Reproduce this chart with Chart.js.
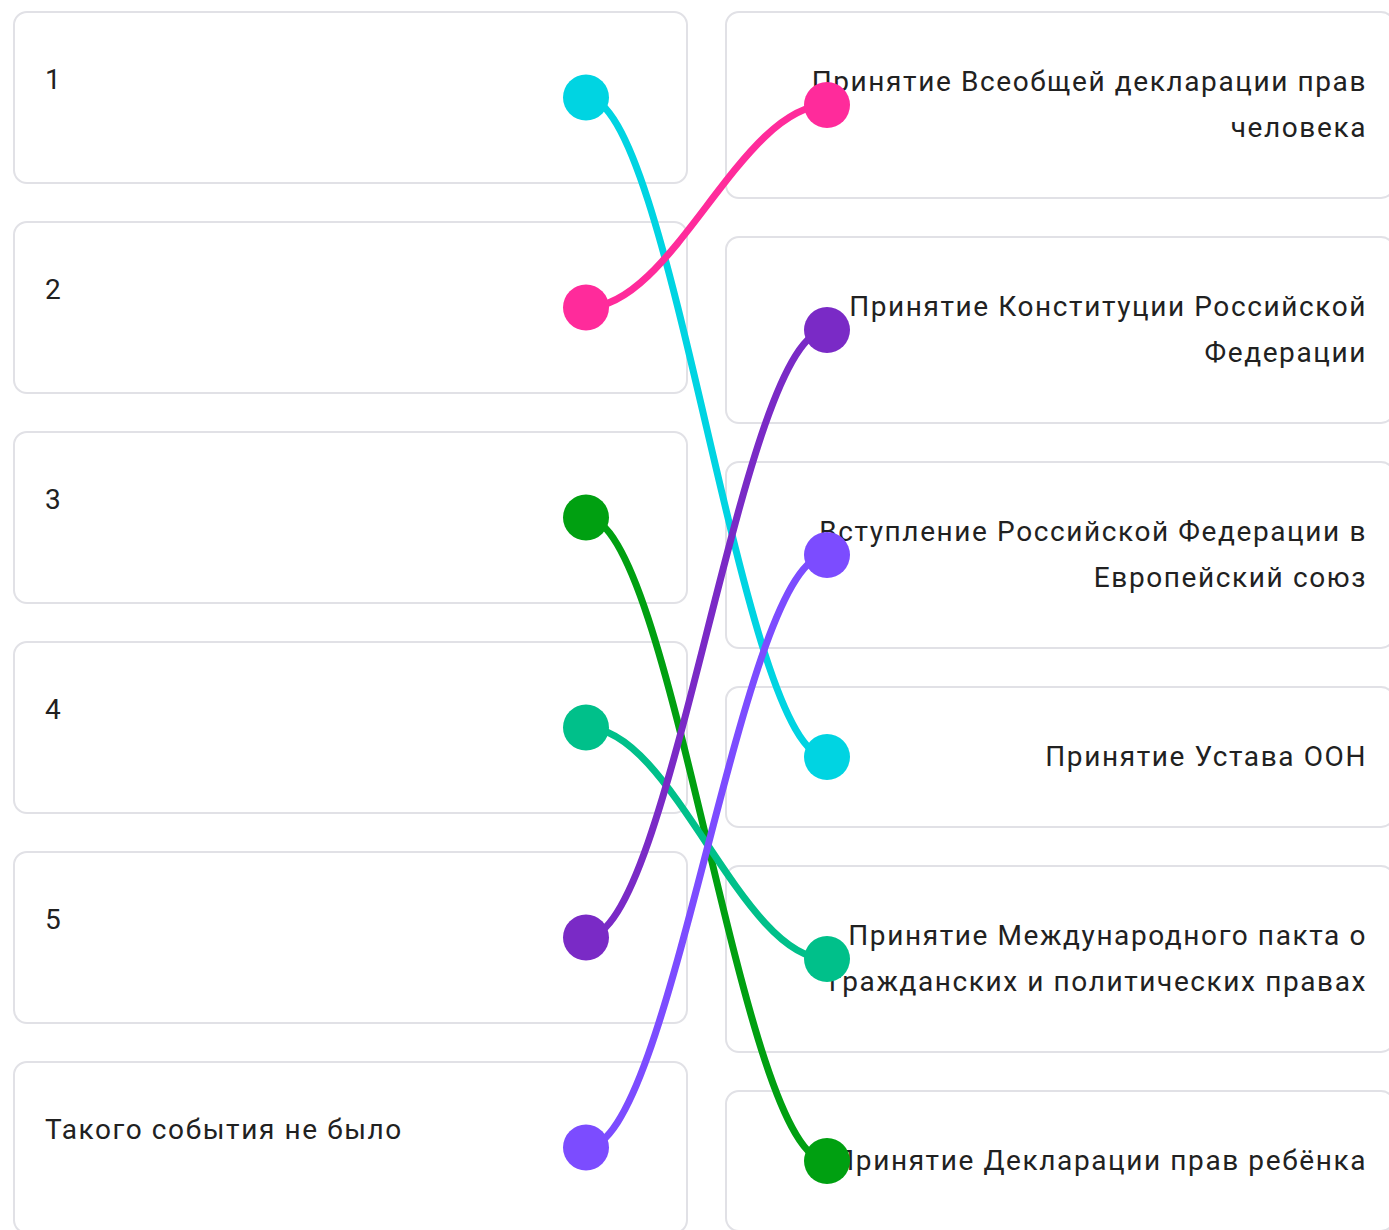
<!DOCTYPE html>
<html lang="ru">
<head>
  <meta charset="UTF-8">
  <title>Сопоставление событий</title>
  <script src="https://cdn.jsdelivr.net/npm/chart.js"></script>
  <style>
    html, body { margin: 0; padding: 0; background: #fff; overflow: hidden; }
    body { width: 1389px; height: 1230px; position: relative; font-family: Roboto, "Noto Sans", sans-serif; color: #212121; }
    .col { position: absolute; top: 11px; }
    .col-left { left: 13px; width: 675px; }
    .col-right { left: 725px; width: 670px; }
    .box {
      box-sizing: border-box;
      border: 2px solid #e1e1e6;
      border-radius: 14px;
      margin-bottom: 37px;
      font-size: 28px;
      letter-spacing: 1.6px;
      line-height: 46px;
      background: #fff;
    }
    .col-left .box { height: 173px; padding: 44px 30px 0 30px; }
    .col-right .box { padding: 46px 26px 46px 55px; text-align: right; }
    #wrap { position: absolute; left: 0; top: 0; width: 1389px; height: 1230px; pointer-events: none; }
  </style>
</head>
<body>
  <div class="col col-left" id="left"></div>
  <div class="col col-right" id="right"></div>
  <div id="wrap"><canvas id="chartMatch" width="1389" height="1230"></canvas></div>

  <script>
    // левая колонка
    const leftItems = ['1', '2', '3', '4', '5', 'Такого события не было'];
    // правая колонка
    const rightItems = [
      'Принятие Всеобщей декларации прав человека',
      'Принятие Конституции Российской Федерации',
      'Вступление Российской Федерации в Европейский союз',
      'Принятие Устава ООН',
      'Принятие Международного пакта о гражданских и политических правах',
      'Принятие Декларации прав ребёнка'
    ];
    // для каждого пункта слева - индекс события справа
    const links = [3, 0, 5, 4, 1, 2];
    const lineColors = ['#00d4e2', '#ff2b9b', '#00a011', '#00c08a', '#7a2ac6', '#7c4cff'];

    const LEFT_DOT_X = 586;
    const RIGHT_DOT_X = 827;

    function fillColumn(id, items) {
      const col = document.getElementById(id);
      return items.map(t => {
        const d = document.createElement('div');
        d.className = 'box';
        d.textContent = t;
        col.appendChild(d);
        return d;
      });
    }
    const leftBoxes = fillColumn('left', leftItems);
    const rightBoxes = fillColumn('right', rightItems);

    const centerY = el => { const r = el.getBoundingClientRect(); return r.top + r.height / 2; };
    const leftY = leftBoxes.map(centerY);
    const rightY = rightBoxes.map(centerY);

    const datasets = leftItems.map((_, i) => ({
      label: leftItems[i],
      data: [{ x: LEFT_DOT_X, y: leftY[i] }, { x: RIGHT_DOT_X, y: rightY[links[i]] }],
      showLine: false,
      pointRadius: 23,
      pointHoverRadius: 23,
      pointBackgroundColor: lineColors[i],
      pointBorderWidth: 0,
      clip: false
    }));

    // кривые Безье между точками
    const curves = {
      id: 'curves',
      beforeDatasetsDraw(chart) {
        const ctx = chart.ctx;
        ctx.save();
        ctx.lineWidth = 7;
        ctx.lineCap = 'round';
        chart.data.datasets.forEach((ds, i) => {
          const pts = chart.getDatasetMeta(i).data;
          const a = pts[0], b = pts[1];
          const k = (b.x - a.x) * 0.36;
          ctx.strokeStyle = lineColors[i];
          ctx.beginPath();
          ctx.moveTo(a.x, a.y);
          ctx.bezierCurveTo(a.x + k, a.y, b.x - k, b.y, b.x, b.y);
          ctx.stroke();
        });
        ctx.restore();
      }
    };

    new Chart(document.getElementById('chartMatch').getContext('2d'), {
      type: 'scatter',
      data: { datasets },
      options: {
        responsive: false,
        animation: false,
        events: [],
        layout: { padding: 0, autoPadding: false },
        plugins: { legend: { display: false }, tooltip: { enabled: false } },
        scales: {
          x: { type: 'linear', min: 0, max: 1389, display: false },
          y: { type: 'linear', min: 0, max: 1230, reverse: true, display: false }
        }
      },
      plugins: [curves]
    });
  </script>
</body>
</html>
